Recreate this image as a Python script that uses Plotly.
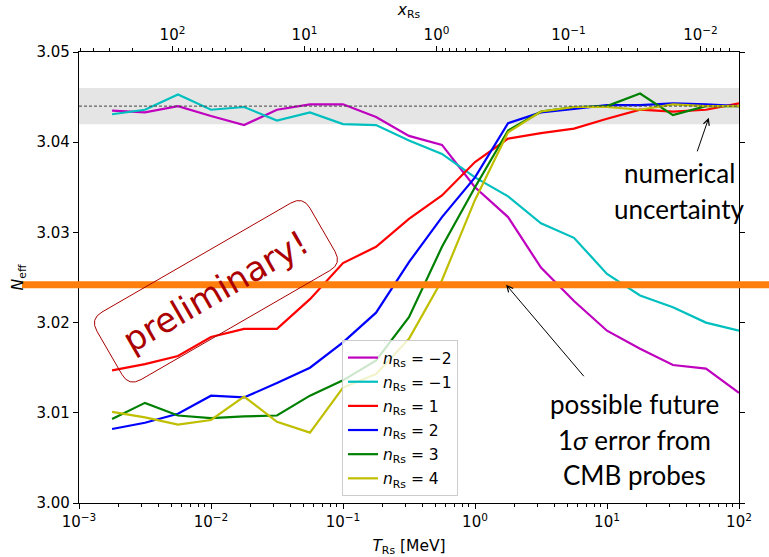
import math
import plotly.graph_objects as go

# Reheating temperature grid [MeV]
T_RS = [0.00178, 0.00316, 0.00562, 0.0100, 0.0178, 0.0316, 0.0562, 0.100, 0.178, 0.316,
        0.562, 1.00, 1.78, 3.16, 5.62, 10.0, 17.8, 31.6, 56.2, 100.0]

# N_eff for each power-law index n_Rs
N_M2 = [3.0435, 3.0433, 3.0440, 3.0429, 3.0419, 3.0436, 3.0442, 3.0442, 3.0428, 3.0407,
        3.0397, 3.0350, 3.0317, 3.0261, 3.0224, 3.0191, 3.0171, 3.0153, 3.0149, 3.0122]
N_M1 = [3.0431, 3.0436, 3.0453, 3.0436, 3.0439, 3.0424, 3.0433, 3.0420, 3.0419, 3.0402,
        3.0387, 3.0361, 3.0340, 3.0310, 3.0294, 3.0254, 3.0230, 3.0217, 3.0200, 3.0191]
N_P1 = [3.0147, 3.0154, 3.0163, 3.0184, 3.0193, 3.0193, 3.0226, 3.0266, 3.0284, 3.0315,
        3.0341, 3.0378, 3.0404, 3.0410, 3.0415, 3.0426, 3.0436, 3.0434, 3.0436, 3.0443]
N_P2 = [3.0082, 3.0089, 3.0099, 3.0119, 3.0117, 3.0133, 3.0150, 3.0178, 3.0211, 3.0267,
        3.0317, 3.0361, 3.0421, 3.0433, 3.0437, 3.0441, 3.0441, 3.0443, 3.0442, 3.0440]
N_P3 = [3.0093, 3.0111, 3.0097, 3.0094, 3.0096, 3.0097, 3.0119, 3.0136, 3.0158, 3.0206,
        3.0284, 3.0350, 3.0413, 3.0434, 3.0439, 3.0440, 3.0454, 3.0430, 3.0440, 3.0440]
N_P4 = [3.0101, 3.0095, 3.0087, 3.0092, 3.0118, 3.0090, 3.0078, 3.0128, 3.0143, 3.0182,
        3.0247, 3.0336, 3.0411, 3.0434, 3.0439, 3.0439, 3.0436, 3.0442, 3.0440, 3.0440]

SERIES_LABELS = ["\u22122", "\u22121", "1", "2", "3", "4"]
SERIES_DATA = [N_M2, N_M1, N_P1, N_P2, N_P3, N_P4]
SERIES_COLORS = ["#bf00bf", "#00bfbf", "#ff0000", "#0000ff", "#008000", "#bfbf00"]

# Reference values
N_STANDARD = 3.044          # standard-model value
N_NUM_ERR = 0.002           # numerical uncertainty half-width
N_CMB_1SIGMA = 3.0242       # future CMB 1 sigma reach
M_E = 0.511                 # electron mass [MeV], x_Rs = m_e / T_Rs

# Axis ticks
X_TICKS = [1e-3, 1e-2, 1e-1, 1e0, 1e1, 1e2]
X_TICKTEXT = ["10<sup>\u22123</sup>", "10<sup>\u22122</sup>", "10<sup>\u22121</sup>",
              "10<sup>0</sup>", "10<sup>1</sup>", "10<sup>2</sup>"]
XRS_TICKS = [1e2, 1e1, 1e0, 1e-1, 1e-2]
XRS_TICKTEXT = ["10<sup>2</sup>", "10<sup>1</sup>", "10<sup>0</sup>",
                "10<sup>\u22121</sup>", "10<sup>\u22122</sup>"]
Y_TICKS = [3.00, 3.01, 3.02, 3.03, 3.04, 3.05]

# Figure geometry
W, H = 769, 557
ML, MR, MT, MB = 79, 30, 52, 54
X_LOG = (-3.0, 2.0)
Y_RANGE = (3.00, 3.05)
PW, PH = W - ML - MR, H - MT - MB

FONT = "DejaVu Sans"
ANN_FONT = "Lato"


def px_x(t):
    return ML + (math.log10(t) - X_LOG[0]) / (X_LOG[1] - X_LOG[0]) * PW


def px_y(n):
    return MT + PH - (n - Y_RANGE[0]) / (Y_RANGE[1] - Y_RANGE[0]) * PH


def to_paper(px, py):
    return (px - ML) / PW, (MT + PH - py) / PH


def rounded_box_path(cx, cy, w, h, r, angle_deg):
    a = math.radians(angle_deg)
    ca, sa = math.cos(a), math.sin(a)

    def pt(dx, dy):
        x = cx + dx * ca + dy * sa
        y = cy - dx * sa + dy * ca
        px, py = to_paper(x, y)
        return f"{px:.5f},{py:.5f}"

    hw, hh = w / 2, h / 2
    return (f"M{pt(-hw + r, -hh)} L{pt(hw - r, -hh)} Q{pt(hw, -hh)} {pt(hw, -hh + r)} "
            f"L{pt(hw, hh - r)} Q{pt(hw, hh)} {pt(hw - r, hh)} "
            f"L{pt(-hw + r, hh)} Q{pt(-hw, hh)} {pt(-hw, hh - r)} "
            f"L{pt(-hw, -hh + r)} Q{pt(-hw, -hh)} {pt(-hw + r, -hh)} Z")


fig = go.Figure()

for lab, ys, col in zip(SERIES_LABELS, SERIES_DATA, SERIES_COLORS):
    fig.add_trace(go.Scatter(
        x=T_RS, y=ys, mode="lines", line=dict(color=col, width=2.2),
        name=f"<i>n</i><sub>Rs</sub> = {lab}", legendgroup=f"n{lab}", hoverinfo="skip"))

# carrier trace for the x_Rs axis on top
fig.add_trace(go.Scatter(
    x=[M_E / t for t in T_RS], y=N_M2, xaxis="x2", mode="lines",
    line=dict(width=0), opacity=0, showlegend=False, hoverinfo="skip"))

shapes = []
# numerical uncertainty band and central value
shapes.append(dict(type="rect", xref="paper", yref="y", x0=0, x1=1,
                   y0=N_STANDARD - N_NUM_ERR, y1=N_STANDARD + N_NUM_ERR,
                   fillcolor="#e5e5e5", line=dict(width=0), layer="below"))
shapes.append(dict(type="line", xref="paper", yref="y", x0=0, x1=1,
                   y0=N_STANDARD, y1=N_STANDARD,
                   line=dict(color="#444444", width=1, dash="3px,2px"), layer="above"))
# CMB sensitivity line spanning beyond the axes
cmb_py = to_paper(0, px_y(N_CMB_1SIGMA))[1]
shapes.append(dict(type="line", xref="paper", yref="paper",
                   x0=to_paper(22, 0)[0], x1=to_paper(W, 0)[0], y0=cmb_py, y1=cmb_py,
                   line=dict(color="#ff7f0e", width=7), layer="above"))
# "preliminary!" stamp frame
PRELIM_T, PRELIM_N = 0.0109, 3.02347
shapes.append(dict(type="path", xref="paper", yref="paper",
                   path=rounded_box_path(px_x(PRELIM_T), px_y(PRELIM_N), 246, 78, 14, 30),
                   line=dict(color="#aa0000", width=1), fillcolor="rgba(0,0,0,0)",
                   layer="above"))

annotations = []
annotations.append(dict(x=math.log10(PRELIM_T), y=PRELIM_N, xref="x", yref="y",
                        text="preliminary!", showarrow=False, textangle=-30,
                        xanchor="center", yanchor="middle",
                        font=dict(family=FONT, size=34, color="#aa0000")))

# numerical uncertainty label + arrow
annotations.append(dict(x=math.log10(59.0), y=3.0427, xref="x", yref="y", text="",
                        showarrow=True, arrowhead=5, arrowsize=1.2, arrowwidth=1,
                        arrowcolor="black", ax=-12, ay=35, standoff=0, startstandoff=0))
for line_text, py in [("numerical", 173), ("uncertainty", 209)]:
    px_, py_ = to_paper(679, py)
    annotations.append(dict(x=px_, y=py_, xref="paper", yref="paper", text=line_text,
                            showarrow=False, xanchor="center", yanchor="middle",
                            font=dict(family=ANN_FONT, size=26, color="black")))

# CMB forecast label + arrow
annotations.append(dict(x=math.log10(1.72), y=N_CMB_1SIGMA, xref="x", yref="y", text="",
                        showarrow=True, arrowhead=5, arrowsize=1.2, arrowwidth=1,
                        arrowcolor="black", ax=79, ay=93, standoff=0, startstandoff=0))
for line_text, py in [("possible future", 404), ("1<i>\u03c3</i> error from", 440),
                      ("CMB probes", 475)]:
    px_, py_ = to_paper(634, py)
    annotations.append(dict(x=px_, y=py_, xref="paper", yref="paper", text=line_text,
                            showarrow=False, xanchor="center", yanchor="middle",
                            font=dict(family=ANN_FONT, size=26, color="black")))

axis_common = dict(showgrid=False, zeroline=False, showline=True, linecolor="black",
                   linewidth=1.2, ticks="outside", ticklen=5, tickwidth=1.2,
                   tickcolor="black", tickfont=dict(family=FONT, size=15, color="black"),
                   automargin=False)

fig.update_layout(
    width=W, height=H,
    margin=dict(l=ML, r=MR, t=MT, b=MB, pad=0, autoexpand=False),
    paper_bgcolor="white", plot_bgcolor="white",
    font=dict(family=FONT, size=15, color="black"),
    showlegend=True,
    legend=dict(x=to_paper(342, 0)[0], y=to_paper(0, 496)[1], xanchor="left",
                yanchor="bottom", bgcolor="rgba(255,255,255,0.8)", bordercolor="#cccccc",
                borderwidth=1, font=dict(family=FONT, size=15.5, color="black"),
                tracegroupgap=1, itemwidth=30),
    xaxis=dict(type="log", range=list(X_LOG), tickvals=X_TICKS, ticktext=X_TICKTEXT,
               minor=dict(ticks="outside", ticklen=3, tickwidth=1, tickcolor="black",
                          dtick="D1", showgrid=False),
               title=dict(text="<i>T</i><sub>Rs</sub> [MeV]", standoff=14,
                          font=dict(family=FONT, size=15.5, color="black")),
               mirror=False, **axis_common),
    xaxis2=dict(type="log", overlaying="x", side="top", anchor="y",
                range=[math.log10(M_E / 10 ** X_LOG[0]), math.log10(M_E / 10 ** X_LOG[1])],
                tickvals=XRS_TICKS, ticktext=XRS_TICKTEXT,
                minor=dict(ticks="outside", ticklen=3, tickwidth=1, tickcolor="black",
                           dtick="D1", showgrid=False),
                title=dict(text="<i>x</i><sub>Rs</sub>", standoff=4,
                           font=dict(family=FONT, size=15.5, color="black")),
                **axis_common),
    yaxis=dict(range=list(Y_RANGE), tickvals=Y_TICKS, tickformat=".2f",
               title=dict(text="<i>N</i><sub>eff</sub>", standoff=9,
                          font=dict(family=FONT, size=15.5, color="black")),
               mirror="ticks", **axis_common),
    shapes=shapes,
    annotations=annotations,
)

fig.write_html("out.html")
